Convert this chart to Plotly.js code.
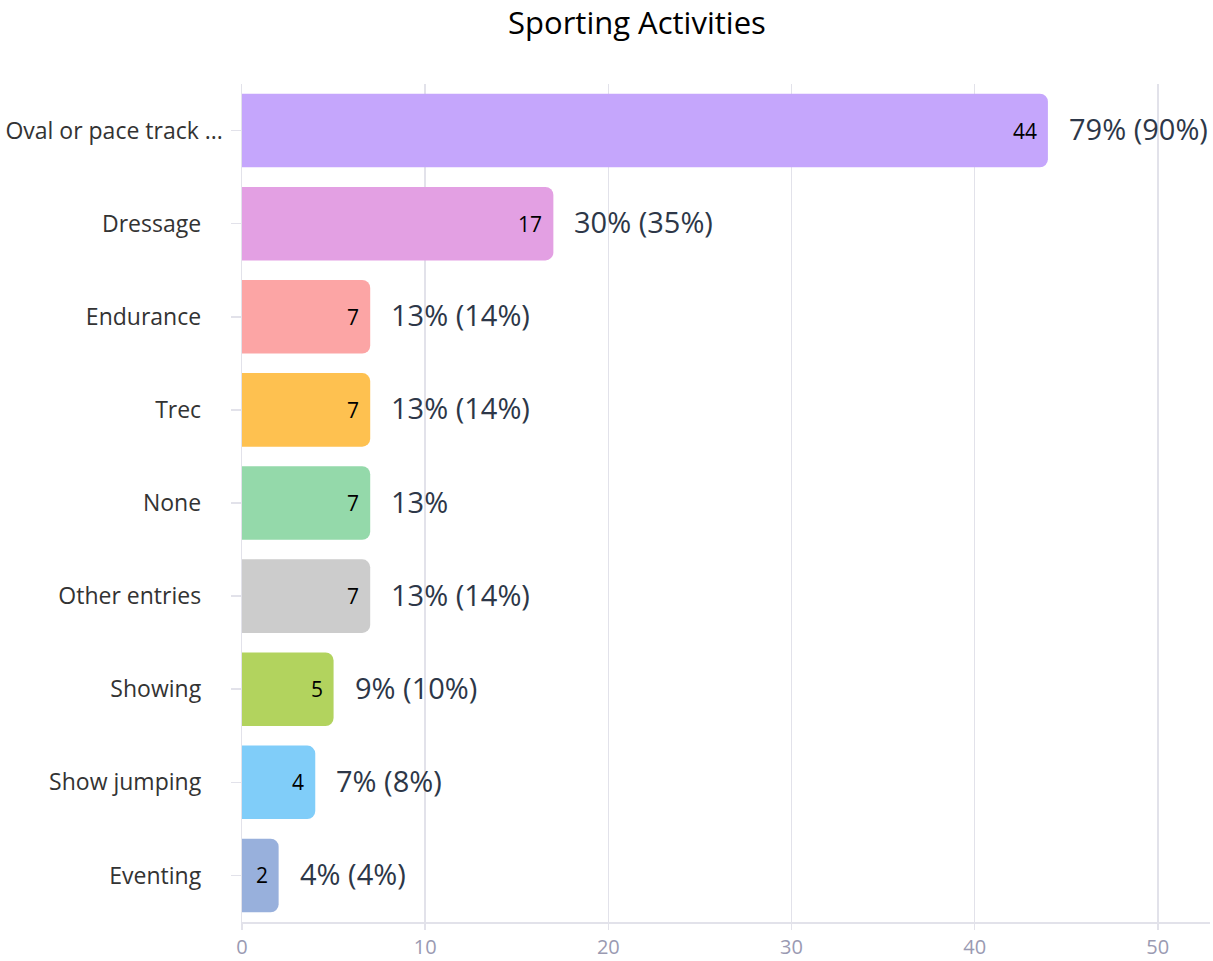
<!DOCTYPE html>
<html>
<head>
<meta charset="utf-8">
<script src="https://cdn.plot.ly/plotly-3.0.1.min.js"></script>
<style>html,body{margin:0;padding:0;background:#fff;}#chart{width:1213px;height:961px;}</style>
</head>
<body>
<div id="chart"></div>
<script>
const categories = ["Oval or pace track ...", "Dressage", "Endurance", "Trec", "None", "Other entries", "Showing", "Show jumping", "Eventing"];
const counts = [44, 17, 7, 7, 7, 7, 5, 4, 2];
const pctLabels = ["79% (90%)", "30% (35%)", "13% (14%)", "13% (14%)", "13%", "13% (14%)", "9% (10%)", "7% (8%)", "4% (4%)"];
const barColors = ["#c5a6fc", "#e3a0e3", "#fca5a5", "#fec150", "#94d9aa", "#cccccc", "#b2d35e", "#80cdf9", "#98b0dc"];
const xTicks = [0, 10, 20, 30, 40, 50];

const FONT = "'Open Sans', 'Noto Sans', sans-serif";
const pad = "\u00a0\u00a0\u00a0\u2009";
const tickText = categories.map((c, i) => i === 0 ? c : c + pad);

const trace = {
  type: "bar",
  orientation: "h",
  y: categories,
  x: counts,
  marker: { color: barColors },
  width: 0.79,
  hoverinfo: "none"
};

const annotations = [];
categories.forEach((c, i) => {
  annotations.push({
    x: counts[i], y: c, xref: "x", yref: "y",
    text: String(counts[i]), showarrow: false,
    xanchor: "right", xshift: -9, yshift: 0,
    font: { family: FONT, size: 21, color: "#000" }
  });
  annotations.push({
    x: counts[i], y: c, xref: "x", yref: "y",
    text: pctLabels[i], showarrow: false,
    xanchor: "left", xshift: 19, yshift: 2,
    font: { family: FONT, size: 29, color: "#2d3748" }
  });
});

const layout = {
  width: 1213, height: 961,
  margin: { l: 242, r: 3, t: 84, b: 39 },
  paper_bgcolor: "#fff", plot_bgcolor: "#fff",
  barcornerradius: 8,
  showlegend: false,
  font: { family: FONT },
  title: {
    text: "Sporting Activities",
    font: { family: FONT, size: 31, color: "#000" },
    xref: "paper", x: 0.408, xanchor: "center",
    yref: "container", y: 0.976, yanchor: "middle"
  },
  xaxis: {
    range: [0, 52.85],
    tickvals: xTicks,
    showgrid: true, gridcolor: "#e2e2ea", gridwidth: 1.5,
    zeroline: false,
    showline: true, linecolor: "#e2e2ea", linewidth: 1.5,
    ticks: "outside", ticklen: 6, tickcolor: "#e2e2ea", tickwidth: 1.5,
    ticklabelstandoff: 0,
    tickfont: { size: 20, color: "#9a9ab2" },
    fixedrange: true
  },
  yaxis: {
    type: "category",
    autorange: "reversed",
    tickvals: categories,
    ticktext: tickText,
    showgrid: false, zeroline: false,
    showline: true, linecolor: "#e2e2ea", linewidth: 1.5,
    ticks: "outside", ticklen: 10, tickcolor: "#e2e2ea", tickwidth: 1.5,
    ticklabelstandoff: 3,
    tickfont: { size: 23, color: "#333" },
    fixedrange: true
  },
  annotations: annotations
};

Plotly.newPlot("chart", [trace], layout, { displayModeBar: false, staticPlot: true });
</script>
</body>
</html>
